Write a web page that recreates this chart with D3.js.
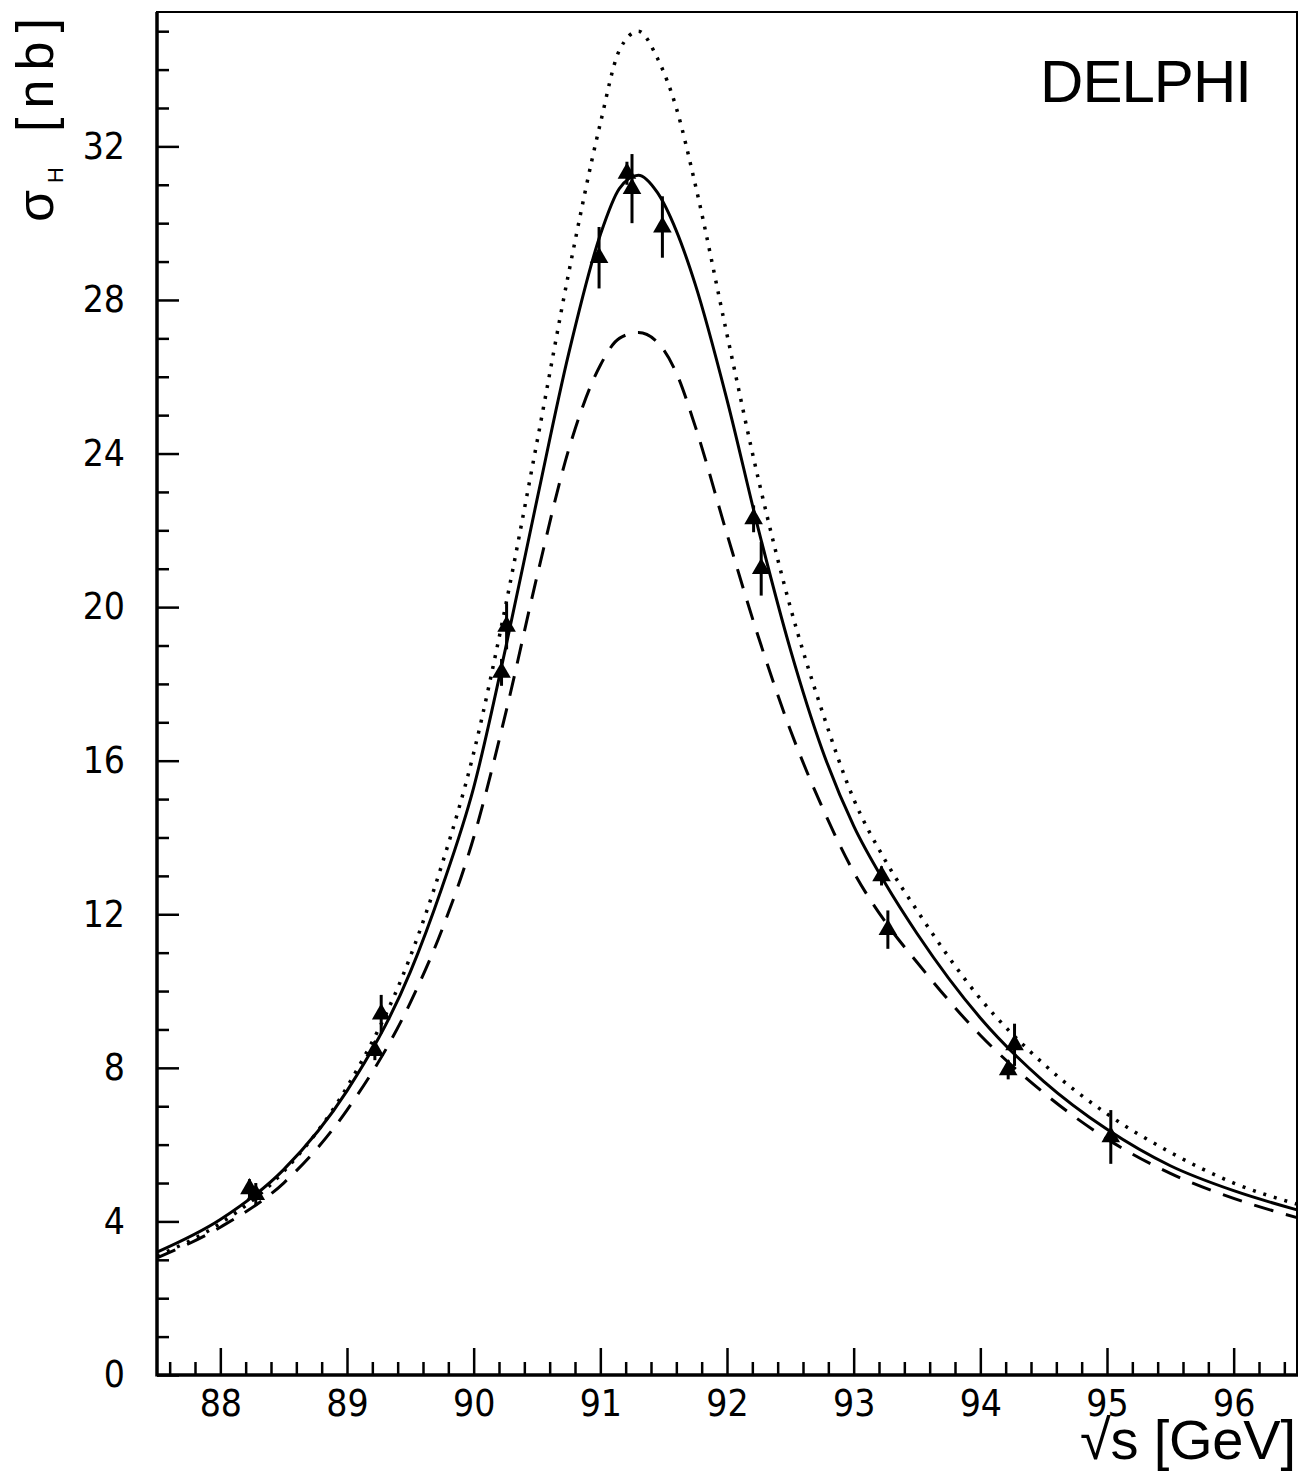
<!DOCTYPE html>
<html>
<head>
<meta charset="utf-8">
<script src="https://cdnjs.cloudflare.com/ajax/libs/d3/7.8.5/d3.min.js"></script>
<style>
  body { margin: 0; background: #fff; }
  svg { display: block; }
</style>
</head>
<body>
<div id="chart"></div>
<script>
var energies = [87.5, 88.0, 88.5, 89.0, 89.5, 89.75, 90.0, 90.25, 90.5, 90.75, 91.0, 91.15, 91.3, 91.45, 91.6, 91.75, 92.0, 92.25, 92.5, 92.75, 93.0, 93.25, 93.5, 94.0, 94.5, 95.0, 95.5, 96.0, 96.5];
var fitSolid = [3.2, 4.05, 5.35, 7.4, 10.5, 12.7, 15.3, 18.9, 22.8, 26.6, 29.7, 30.9, 31.25, 30.8, 29.8, 28.4, 25.4, 22.0, 18.9, 16.3, 14.3, 12.8, 11.5, 9.3, 7.65, 6.4, 5.45, 4.8, 4.3];
var curveDotted = [3.1, 3.95, 5.3, 7.5, 10.9, 13.3, 16.2, 20.0, 24.3, 28.7, 32.6, 34.5, 35.0, 34.3, 33.0, 31.0, 27.1, 23.3, 20.0, 17.3, 15.0, 13.4, 12.1, 9.8, 8.1, 6.8, 5.8, 5.0, 4.45];
var curveDashed = [3.05, 3.85, 5.0, 6.9, 9.7, 11.6, 14.0, 17.2, 20.8, 24.1, 26.3, 27.0, 27.15, 26.9, 26.1, 24.7, 21.9, 19.2, 16.8, 14.8, 13.1, 11.8, 10.75, 8.85, 7.35, 6.15, 5.25, 4.6, 4.1];

// measured points
var pointE = [88.23, 88.28, 89.22, 89.27, 90.22, 90.26, 90.99, 91.21, 91.25, 91.49, 92.21, 92.27, 93.22, 93.27, 94.22, 94.27, 95.03];
var pointSigma = [4.85, 4.7, 8.45, 9.4, 18.3, 19.5, 29.1, 31.3, 30.9, 29.9, 22.3, 21.0, 13.0, 11.6, 7.95, 8.6, 6.2];
var pointErr = [0.25, 0.3, 0.25, 0.5, 0.35, 0.6, 0.8, 0.3, 0.9, 0.8, 0.35, 0.7, 0.25, 0.5, 0.25, 0.55, 0.7];

var xMajorTicks = [88, 89, 90, 91, 92, 93, 94, 95, 96];
var yMajorTicks = [0, 4, 8, 12, 16, 20, 24, 28, 32];

var W = 1300, H = 1472,
    padL = 157, padR = 1297, padT = 12, padB = 1375,
    tickFont = "'Liberation Sans Narrow', 'DejaVu Sans Condensed', 'Arial Narrow', sans-serif",
    titleFont = "'Liberation Sans', Arial, sans-serif";

var x = d3.scaleLinear().domain([87.5, 96.5]).range([padL, padR]);
var y = d3.scaleLinear().domain([0, 35.5]).range([padB, padT]);

var svg = d3.select("#chart").append("svg")
    .attr("width", W)
    .attr("height", H);

svg.append("rect").attr("width", W).attr("height", H).attr("fill", "#fff");

// minor ticks every 0.2 GeV / 1 nb
var xMinor = d3.range(876, 966, 2).map(function(d) { return d / 10; })
    .filter(function(d) { return xMajorTicks.indexOf(d) < 0; });
var yMinor = d3.range(1, 36).filter(function(d) { return d % 4 != 0; });

svg.append("g")
    .attr("transform", "translate(0," + padB + ")")
    .call(d3.axisBottom(x).tickValues(xMinor).tickSizeInner(-13).tickSizeOuter(0).tickFormat(""))
    .call(function(g) { g.select(".domain").remove(); });

svg.append("g")
    .attr("class", "x axis")
    .attr("transform", "translate(0," + padB + ")")
    .call(d3.axisBottom(x).tickValues(xMajorTicks).tickSizeInner(-27).tickSizeOuter(0).tickPadding(15).tickFormat(d3.format("d")))
    .call(function(g) { g.select(".domain").remove(); });

svg.append("g")
    .attr("transform", "translate(" + padL + ",0)")
    .call(d3.axisLeft(y).tickValues(yMinor).tickSizeInner(-12).tickSizeOuter(0).tickFormat(""))
    .call(function(g) { g.select(".domain").remove(); });

svg.append("g")
    .attr("class", "y axis")
    .attr("transform", "translate(" + padL + ",0)")
    .call(d3.axisLeft(y).tickValues(yMajorTicks).tickSizeInner(-22).tickSizeOuter(0).tickPadding(32).tickFormat(d3.format("d")))
    .call(function(g) { g.select(".domain").remove(); });

svg.selectAll(".tick line").attr("stroke", "#000").attr("stroke-width", 2.5);
svg.selectAll(".tick text")
    .attr("fill", "#000")
    .style("font-family", tickFont)
    .style("font-size", "37px");

// frame
svg.append("rect")
    .attr("x", padL).attr("y", padT)
    .attr("width", padR - padL).attr("height", padB - padT)
    .attr("fill", "none").attr("stroke", "#000").attr("stroke-width", 2);
svg.append("line").attr("x1", padL).attr("x2", padL).attr("y1", padT).attr("y2", padB + 1.5)
    .attr("stroke", "#000").attr("stroke-width", 3.5);
svg.append("line").attr("x1", padL).attr("x2", padR + 1).attr("y1", padB).attr("y2", padB)
    .attr("stroke", "#000").attr("stroke-width", 3.5);

// curves
var line = function(vals) {
  return d3.line()
    .x(function(d, i) { return x(energies[i]); })
    .y(function(d) { return y(d); })
    .curve(d3.curveMonotoneX)(vals);
};

var plot = svg.append("g");
plot.append("path").attr("d", line(curveDotted))
    .attr("fill", "none").attr("stroke", "#000").attr("stroke-width", 3.5)
    .attr("stroke-dasharray", "3,8");
plot.append("path").attr("d", line(curveDashed))
    .attr("fill", "none").attr("stroke", "#000").attr("stroke-width", 3)
    .attr("stroke-dasharray", "20,13");
plot.append("path").attr("d", line(fitSolid))
    .attr("fill", "none").attr("stroke", "#000").attr("stroke-width", 3);

// data points with error bars
var pts = pointE.map(function(e, i) { return {e: e, s: pointSigma[i], err: pointErr[i]}; });

plot.selectAll(".err")
    .data(pts)
  .enter().append("line")
    .attr("class", "err")
    .attr("x1", function(d) { return x(d.e); })
    .attr("x2", function(d) { return x(d.e); })
    .attr("y1", function(d) { return y(d.s - d.err); })
    .attr("y2", function(d) { return y(d.s + d.err); })
    .attr("stroke", "#000").attr("stroke-width", 3);

plot.selectAll(".pt")
    .data(pts)
  .enter().append("path")
    .attr("class", "pt")
    .attr("d", d3.symbol(d3.symbolTriangle, 150))
    .attr("transform", function(d) { return "translate(" + x(d.e) + "," + y(d.s) + ")"; })
    .attr("fill", "#000");

// labels
svg.append("text")
    .attr("x", 1040).attr("y", 102)
    .attr("textLength", 212).attr("lengthAdjust", "spacing")
    .style("font-family", titleFont).style("font-size", "60px")
    .text("DELPHI");

svg.append("text")
    .attr("x", 1080).attr("y", 1459)
    .attr("textLength", 216).attr("lengthAdjust", "spacing")
    .style("font-family", titleFont).style("font-size", "56px")
    .text("√s [GeV]");

var yTitle = svg.append("text")
    .attr("transform", "translate(53,222) rotate(-90)")
    .style("font-family", titleFont).style("font-size", "52px");
yTitle.append("tspan").attr("x", 0).text("σ");
yTitle.append("tspan").attr("x", 39).attr("dy", 10).style("font-size", "22px").text("H");
yTitle.append("tspan").attr("x", 90).attr("dy", -10)
    .attr("textLength", 114).attr("lengthAdjust", "spacing").text("[nb]");
</script>
</body>
</html>
